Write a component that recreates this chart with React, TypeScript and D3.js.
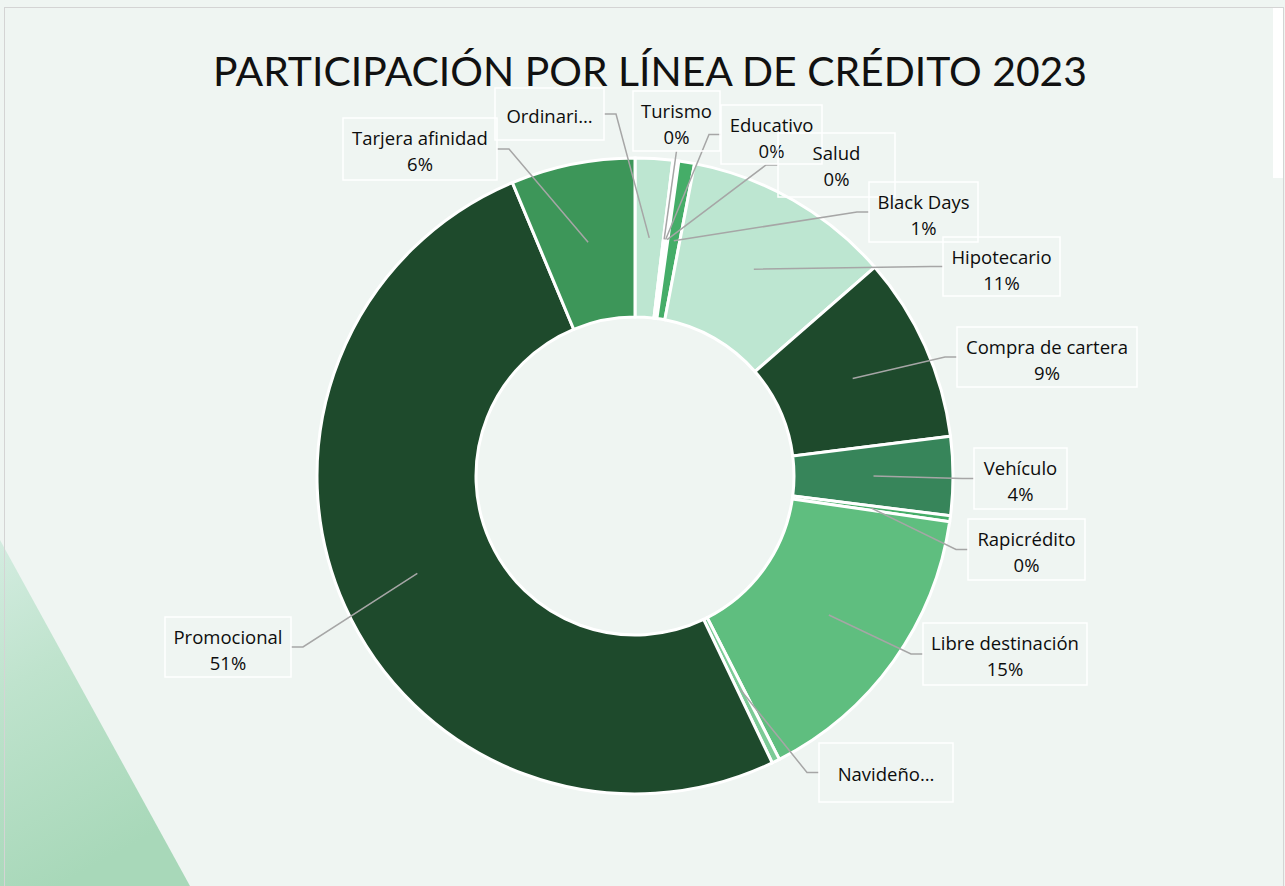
import React from "react";
import * as d3 from "d3";

const categories = [
  "Ordinario", "Turismo", "Educativo", "Salud", "Black Days", "Hipotecario",
  "Compra de cartera", "Vehículo", "Rapicrédito", "Libre destinación",
  "Navideño", "Promocional", "Tarjera afinidad",
];
const values = [1.9, 0.1, 0.1, 0.1, 0.8, 10.6, 9.4, 4.0, 0.3, 15.2, 0.4, 50.8, 6.3];
const displayNames = [
  "Ordinari…", "Turismo", "Educativo", "Salud", "Black Days", "Hipotecario",
  "Compra de cartera", "Vehículo", "Rapicrédito", "Libre destinación",
  "Navideño…", "Promocional", "Tarjera afinidad",
];
const showPercent = [false, true, true, true, true, true, true, true, true, true, false, true, true];
const colors = [
  "#bde6d1", "#9fd8b4", "#7ccb97", "#5fbe7f", "#45ad68", "#bde6d1",
  "#1e4a2c", "#37855a", "#45ad68", "#5fbe7f", "#7ccb97", "#1e4a2c", "#3d9659",
];

// label box layout: [x0, y0, x1, y1]
const boxes = [
  [495, 88, 604, 140], [633, 91, 720, 151], [721, 105, 822, 164], [778, 133, 895, 197],
  [869, 182, 978, 242], [943, 237, 1060, 296], [957, 327, 1137, 387], [974, 448, 1067, 509],
  [968, 519, 1085, 580], [923, 623, 1087, 685], [819, 743, 953, 802], [165, 617, 291, 677],
  [343, 118, 497, 180],
];
// leader attach side: "r" right edge, "l" left edge, "b" bottom
const attach = ["r", "b", "l", "l", "l", "l", "l", "l", "l", "l", "l", "r", "r"];

const W = 1285, H = 886;
const cx = 635, cy = 476, R = 318, r = 159;
const LABEL_FONT = "'Open Sans', sans-serif";
const TITLE_FONT = "Lato, 'Open Sans', sans-serif";

export default function App() {
  const total = d3.sum(values);
  const pie = d3.pie<number>().sort(null).value((d) => d).startAngle(0).endAngle(2 * Math.PI);
  const arcs = pie(values);
  const arc = d3.arc<d3.PieArcDatum<number>>().innerRadius(r).outerRadius(R);
  const pct = d3.format(".0%");

  return (
    <svg width={W} height={H} style={{ position: "absolute", left: 0, top: 0 }}>
      <defs>
        <linearGradient id="tri" x1="0" y1="0" x2="0.3" y2="1">
          <stop offset="0" stopColor="#d3ece0" />
          <stop offset="0.4" stopColor="#bfe3cd" />
          <stop offset="1" stopColor="#a8d8b9" />
        </linearGradient>
      </defs>
      <rect x={0} y={0} width={W} height={H} fill="#eff5f2" />
      <polygon points={`0,540 190,${H} 0,${H}`} fill="url(#tri)" />
      <rect x={1273} y={8} width={11} height={170} fill="#ffffff" />
      <rect x={4.5} y={7.5} width={1279} height={H + 10} fill="none" stroke="#d4d4d4" strokeWidth={1} />
      <text x={650} y={86} textAnchor="middle" fontFamily={TITLE_FONT} fontSize={40} fill="#111" textLength={874} lengthAdjust="spacingAndGlyphs">
        PARTICIPACIÓN POR LÍNEA DE CRÉDITO 2023
      </text>
      <g transform={`translate(${cx},${cy})`}>
        {arcs.map((a, i) => (
          <path key={i} d={arc(a) || ""} fill={colors[i]} stroke="#ffffff" strokeWidth={3} strokeLinejoin="miter" />
        ))}
      </g>
      {arcs.map((a, i) => {
        const [mx, my] = arc.centroid(a);
        const px = cx + mx, py = cy + my;
        const [x0, y0, x1, y1] = boxes[i];
        const ym = (y0 + y1) / 2;
        let pts: [number, number][];
        if (attach[i] === "b") pts = [[(x0 + x1) / 2, y1], [px, py]];
        else if (attach[i] === "r") pts = [[x1, ym], [x1 + 12, ym], [px, py]];
        else pts = [[x0, ym], [x0 - 12, ym], [px, py]];
        return (
          <polyline key={i} points={pts.map((p) => p.join(",")).join(" ")} fill="none" stroke="#a6a6a6" strokeWidth={1.5} />
        );
      })}
      {arcs.map((a, i) => {
        const [x0, y0, x1, y1] = boxes[i];
        const xm = (x0 + x1) / 2;
        return (
          <g key={i} fontFamily={LABEL_FONT} fontSize={18.5} fill="#0d0d0d">
            <rect x={x0} y={y0} width={x1 - x0} height={y1 - y0} fill="none" stroke="#ffffff" strokeWidth={1.5} />
            {showPercent[i] ? (
              <>
                <text x={xm} y={y0 + 19} textAnchor="middle" dominantBaseline="central">
                  {displayNames[i]}
                </text>
                <text x={xm} y={y0 + 45} textAnchor="middle" dominantBaseline="central">
                  {pct(values[i] / total)}
                </text>
              </>
            ) : (
              <text x={xm} y={(y0 + y1) / 2 + 1} textAnchor="middle" dominantBaseline="central">
                {displayNames[i]}
              </text>
            )}
          </g>
        );
      })}
    </svg>
  );
}
